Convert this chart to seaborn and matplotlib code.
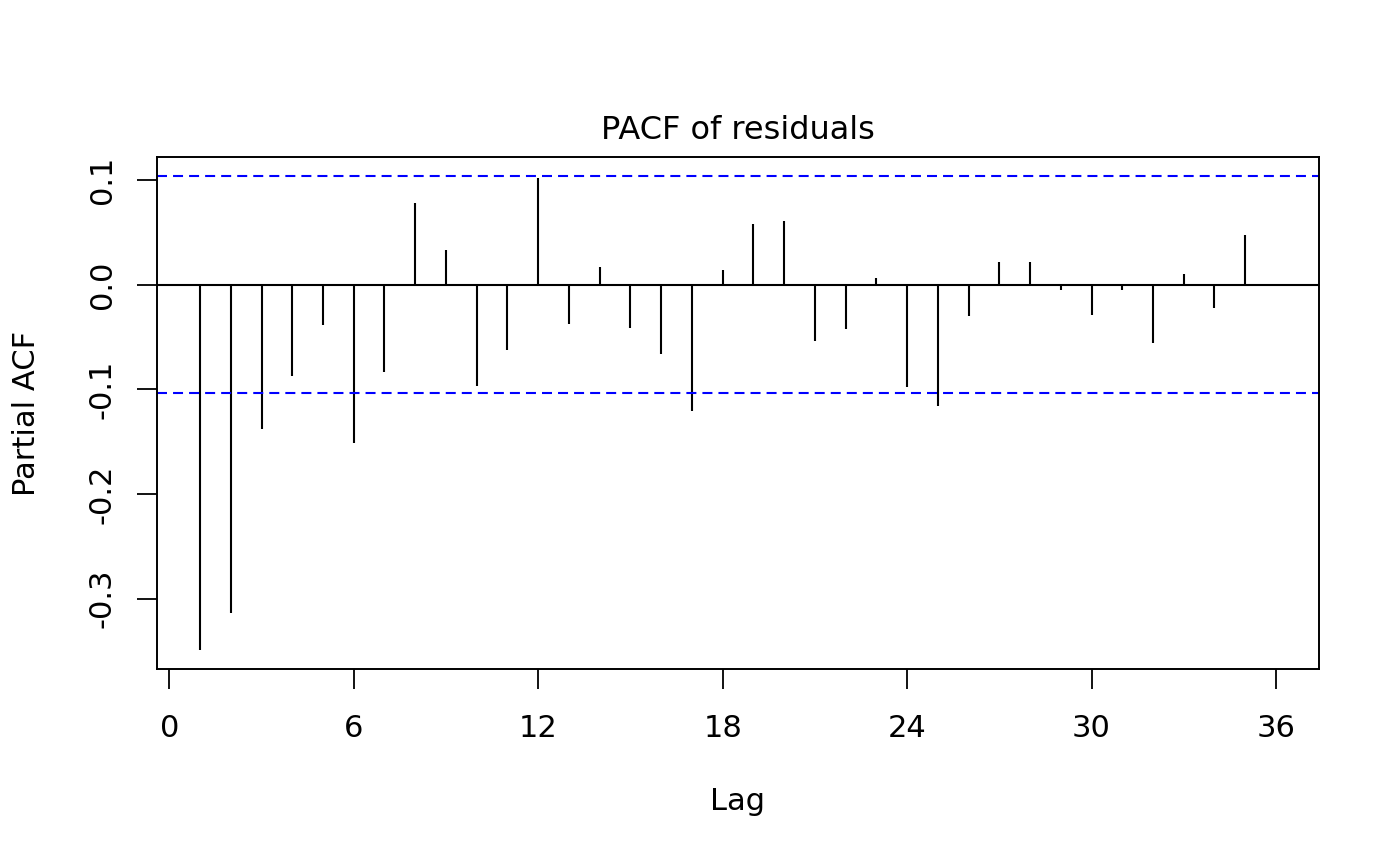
import numpy as np
import pandas as pd
import matplotlib
matplotlib.use("Agg")
import matplotlib.pyplot as plt
import seaborn as sns

lags = list(range(1, 37))
pacf = [-0.349, -0.314, -0.138, -0.087, -0.039, -0.151, -0.0835, 0.078, 0.033, -0.097,
        -0.062, 0.1016, -0.038, 0.017, -0.041, -0.066, -0.121, 0.014, 0.058, 0.061,
        -0.054, -0.0425, 0.0063, -0.0975, -0.116, -0.030, 0.022, 0.022, -0.005, -0.029,
        -0.0048, -0.0556, 0.010, -0.022, 0.0476, -0.0016]
ci = 0.1038
xticks = [0, 6, 12, 18, 24, 30, 36]
yticks = [0.1, 0.0, -0.1, -0.2, -0.3]
yticklabels = ["0.1", "0.0", "-0.1", "-0.2", "-0.3"]

df = pd.DataFrame({"lag": lags, "pacf": pacf})

sns.set_theme(style="white")
plt.rcParams['font.family'] = ['DejaVu Sans']

FS = 22
fig = plt.figure(figsize=(14, 8.66), dpi=100)
ax = fig.add_axes([157/1400, 1 - 669/866, (1319-157)/1400, (669-157)/866])

ax.vlines(df["lag"], 0, df["pacf"], color="black", linewidth=1.5)
ax.axhline(0, color="black", linewidth=1.5)
for c in (ci, -ci):
    ax.axhline(c, color="#0000FF", linewidth=1.5, linestyle=(0, (4.8, 2.9)))

lo, hi = min(min(pacf), -ci), max(max(pacf), ci)
pad = 0.04 * (hi - lo)
ax.set_ylim(lo - pad, hi + pad)
xl, xh = min(lags), max(lags)
xpad = 0.04 * (xh - xl)
ax.set_xlim(xl - xpad, xh + xpad)

ax.set_xticks(xticks)
ax.set_xticklabels([str(t) for t in xticks], fontsize=FS)
ax.set_yticks(yticks)
ax.set_yticklabels(yticklabels, fontsize=FS, rotation=90, va="center")
ax.tick_params(axis="both", direction="out", length=14.4, width=1.3, color="black",
               bottom=True, left=True, labelcolor="black")
ax.tick_params(axis="x", pad=17.8)
ax.tick_params(axis="y", pad=14.5)
for s in ax.spines.values():
    s.set_color("black")
    s.set_linewidth(1.4)
    s.set_visible(True)

ax.set_xlabel("Lag", fontsize=FS, labelpad=32, color="black")
ax.set_ylabel("Partial ACF", fontsize=FS, labelpad=34, color="black")
ax.set_title("PACF of residuals", fontsize=23, pad=12.7, color="black")

fig.savefig("out.png", dpi=100, facecolor="white")
